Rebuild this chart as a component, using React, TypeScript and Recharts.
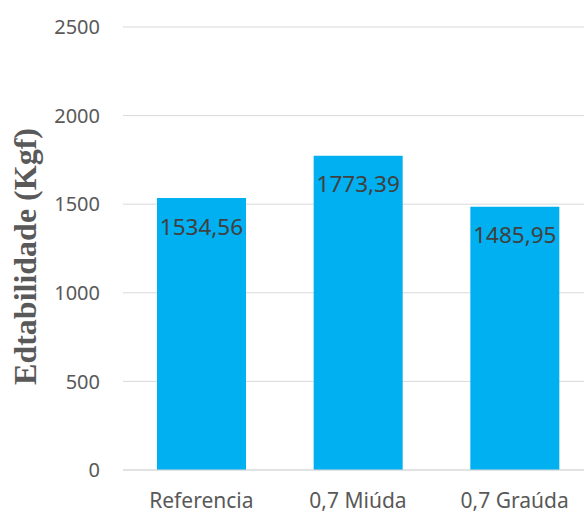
import { BarChart, Bar, XAxis, YAxis, CartesianGrid, LabelList } from "recharts";

// ── data ──────────────────────────────────────────────────────────────────────
const categories = ["Referencia", "0,7 Miúda", "0,7 Graúda"];
const estabilidade = [1534.56, 1773.39, 1485.95];
const yTicks = [0, 500, 1000, 1500, 2000, 2500];

const data = categories.map((name, i) => ({ name, value: estabilidade[i] }));

const BAR_COLOR = "#00b0f0";
const GRID_COLOR = "#d9d9d9";
const TICK_FONT = "'Noto Sans', sans-serif";

const fmt = (v: number) => v.toFixed(2).replace(".", ",");

// value label centred a little below the top of each bar
function ValueLabel(props: any) {
  const { x, y, width, value } = props;
  return (
    <text
      x={x + width / 2}
      y={y + 28}
      textAnchor="middle"
      dominantBaseline="central"
      fontFamily={TICK_FONT}
      fontSize={22.5}
      fill="#404040"
    >
      {fmt(value)}
    </text>
  );
}

// rotated y-axis title, baseline on the right
function AxisTitle(props: any) {
  const { viewBox } = props;
  const cy = viewBox.y + viewBox.height / 2 + 8;
  const cx = 36;
  return (
    <text
      x={cx}
      y={cy}
      transform={`rotate(-90 ${cx} ${cy})`}
      textAnchor="middle"
      fontFamily="'Liberation Serif', 'Times New Roman', serif"
      fontWeight="bold"
      fontSize={32}
      fill="#595959"
    >
      Edtabilidade (Kgf)
    </text>
  );
}

export default function App() {
  return (
    <div
      style={{
        position: "absolute",
        left: 0,
        top: 0,
        width: 584,
        height: 513,
        overflow: "hidden",
        background: "#fff",
      }}
    >
      <BarChart
        width={600}
        height={513}
        data={data}
        margin={{ top: 27, right: 7, bottom: 0, left: 0 }}
        barSize={89}
      >
        <CartesianGrid vertical={false} stroke={GRID_COLOR} strokeWidth={1} />
        <XAxis
          dataKey="name"
          height={43}
          axisLine={{ stroke: GRID_COLOR }}
          tickLine={false}
          tickSize={0}
          tickMargin={23}
          tick={{ fontFamily: TICK_FONT, fontSize: 21, fill: "#595959" }}
        />
        <YAxis
          width={123}
          domain={[0, 2500]}
          ticks={yTicks}
          interval={0}
          axisLine={false}
          tickLine={false}
          tickSize={0}
          tickMargin={23}
          tick={{ fontFamily: TICK_FONT, fontSize: 20, fill: "#595959" }}
          label={<AxisTitle />}
        />
        <Bar dataKey="value" fill={BAR_COLOR} isAnimationActive={false}>
          <LabelList dataKey="value" content={<ValueLabel />} />
        </Bar>
      </BarChart>
    </div>
  );
}
